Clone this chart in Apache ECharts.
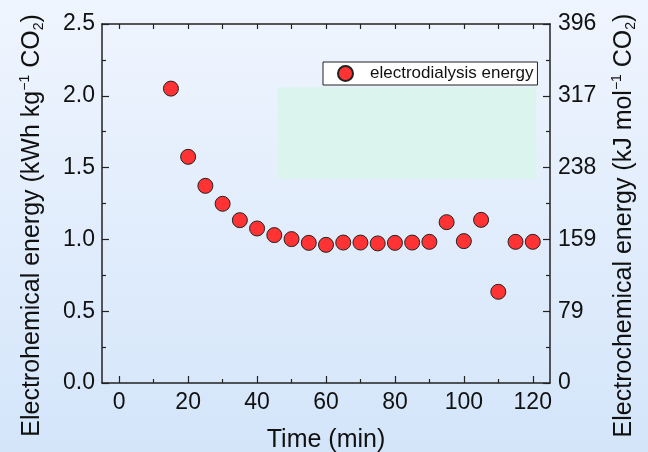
<!DOCTYPE html>
<html>
<head>
<meta charset="utf-8">
<script src="https://cdn.jsdelivr.net/npm/echarts@6/dist/echarts.min.js"></script>
<style>
  html, body { margin: 0; padding: 0; }
  #chart { width: 648px; height: 452px; }
</style>
</head>
<body>
<div id="chart"></div>
<script>
// time (min) and energy (kWh/kg CO2)
var times = [15, 20, 25, 30, 35, 40, 45, 50, 55, 60, 65, 70, 75, 80, 85, 90, 95, 100, 105, 110, 115, 120];
var energy = [2.05, 1.575, 1.373, 1.248, 1.134, 1.076, 1.030, 1.002, 0.976, 0.962, 0.978, 0.978,
              0.972, 0.976, 0.978, 0.983, 1.120, 0.988, 1.136, 0.635, 0.983, 0.983];
var xMajor = [0, 20, 40, 60, 80, 100, 120];
var xMinor = [10, 30, 50, 70, 90, 110];
var xAll = [0, 10, 20, 30, 40, 50, 60, 70, 80, 90, 100, 110, 120];
var leftLabels = ['0.0', '0.5', '1.0', '1.5', '2.0', '2.5'];
var rightLabels = ['0', '79', '159', '238', '317', '396'];
// shaded box: [x0, x1, y0, y1]
var shadeBox = [46, 121, 1.42, 2.06];

var font = 'Liberation Sans';
var ink = '#111';
var lineCol = '#222';

var nameRich = {
    sup: { fontSize: 14, fontFamily: font, color: ink, verticalAlign: 'top', lineHeight: 14 },
    sub: { fontSize: 14, fontFamily: font, color: ink, verticalAlign: 'bottom', lineHeight: 14 }
};

var chart = echarts.init(document.getElementById('chart'));

var option = {
    animation: false,
    backgroundColor: new echarts.graphic.LinearGradient(0, 0, 0, 1, [
        { offset: 0, color: '#eff5fe' },
        { offset: 1, color: '#d4e5fa' }
    ]),
    grid: { left: 102, right: 98, top: 24, bottom: 69, outerBoundsMode: 'none' },
    legend: {
        left: 323, top: 62,
        padding: [3, 4, 3, 14],
        backgroundColor: '#fff',
        borderColor: lineCol,
        borderWidth: 1,
        itemWidth: 15, itemHeight: 15,
        textStyle: { fontFamily: font, fontSize: 17, color: ink, padding: [0, 0, 0, 12] },
        data: ['electrodialysis energy']
    },
    xAxis: [{
        type: 'value', position: 'bottom', min: -5, max: 125,
        name: 'Time (min)', nameLocation: 'middle', nameGap: 45,
        nameTextStyle: { fontFamily: font, fontSize: 25, color: ink },
        axisLine: { onZero: false, lineStyle: { color: lineCol, width: 1.5 } },
        axisTick: { inside: true, length: 7, customValues: xMajor, lineStyle: { color: lineCol, width: 1.2 } },
        axisLabel: { customValues: xMajor, fontFamily: font, fontSize: 23, color: ink, margin: 8 },
        splitLine: { show: false }
    }, {
        type: 'value', position: 'bottom', min: -5, max: 125,
        axisLine: { show: false, onZero: false },
        axisTick: { inside: true, length: 4, customValues: xMinor, lineStyle: { color: lineCol, width: 1.2 } },
        axisLabel: { show: false },
        splitLine: { show: false }
    }, {
        type: 'value', position: 'top', min: -5, max: 125,
        axisLine: { onZero: false, lineStyle: { color: lineCol, width: 1.5 } },
        axisTick: { inside: true, length: 5, customValues: xAll, lineStyle: { color: lineCol, width: 1.2 } },
        axisLabel: { show: false },
        splitLine: { show: false }
    }],
    yAxis: [{
        type: 'value', position: 'left', min: 0, max: 2.5, interval: 0.5,
        name: 'Electrohemical energy (kWh kg{sup|−1} CO{sub|2})',
        nameLocation: 'middle', nameGap: 56, nameRotate: 90,
        nameTextStyle: { fontFamily: font, fontSize: 25, color: ink, lineHeight: 28, rich: nameRich, padding: [0, 44, 0, 0] },
        axisLine: { onZero: false, lineStyle: { color: lineCol, width: 1.5 } },
        axisTick: { inside: true, length: 7, lineStyle: { color: lineCol, width: 1.2 } },
        minorTick: { show: true, splitNumber: 2, length: 4, lineStyle: { color: lineCol, width: 1.2 } },
        axisLabel: {
            fontFamily: font, fontSize: 23, color: ink, margin: 7,
            formatter: function (v) { return leftLabels[Math.round(v / 0.5)]; }
        },
        splitLine: { show: false }
    }, {
        type: 'value', position: 'right', min: 0, max: 2.5, interval: 0.5,
        name: 'Electrochemical energy (kJ mol{sup|−1} CO{sub|2})',
        nameLocation: 'middle', nameGap: 60, nameRotate: 90,
        nameTextStyle: { fontFamily: font, fontSize: 25, color: ink, lineHeight: 28, rich: nameRich, padding: [0, 44, 0, 0] },
        axisLine: { onZero: false, lineStyle: { color: lineCol, width: 1.5 } },
        axisTick: { inside: true, length: 7, lineStyle: { color: lineCol, width: 1.2 } },
        minorTick: { show: true, splitNumber: 2, length: 4, lineStyle: { color: lineCol, width: 1.2 } },
        axisLabel: {
            fontFamily: font, fontSize: 23, color: ink, margin: 8,
            formatter: function (v) { return rightLabels[Math.round(v / 0.5)]; }
        },
        splitLine: { show: false }
    }],
    series: [{
        name: 'electrodialysis energy',
        type: 'scatter',
        xAxisIndex: 0, yAxisIndex: 0,
        symbol: 'circle', symbolSize: 15,
        itemStyle: { color: '#ff3333', borderColor: '#222', borderWidth: 1, opacity: 1 },
        data: times.map(function (t, i) { return [t, energy[i]]; }),
        markArea: {
            silent: true,
            itemStyle: { color: '#dbf4ee' },
            data: [[{ coord: [shadeBox[0], shadeBox[3]] }, { coord: [shadeBox[1], shadeBox[2]] }]]
        }
    }]
};

chart.setOption(option);
</script>
</body>
</html>
